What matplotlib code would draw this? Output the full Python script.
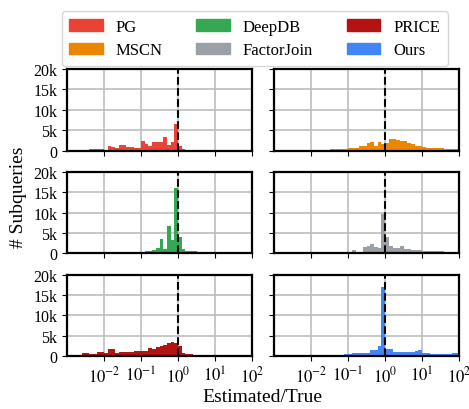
import numpy as np
import matplotlib
matplotlib.use("Agg")
import matplotlib.pyplot as plt
from matplotlib.patches import Patch

plt.rcParams['font.family'] = ['Liberation Serif', 'DejaVu Serif']
plt.rcParams['mathtext.fontset'] = 'stix'

# histogram bins: 10 per decade from 1e-3 to 1e2 (log10 of edges)
log_edges = np.arange(-3.0, 2.01, 0.1)

# counts per bin, in thousands
pg_k = [0, 0, 0, 0, 0.02, 0.05, 0.3, 0.3, 0.3, 0.3,
        0.15, 1.15, 0.8, 0.65, 1.4, 1.4, 1.0, 1.0, 0.75, 0.75,
        2.4, 1.65, 1.1, 2.0, 2.1, 2.0, 3.45, 1.4, 2.1, 6.6,
        1.15, 0.5, 0.25, 0.1, 0.04, 0.03, 0.03, 0.03, 0.03, 0.03,
        0.03, 0.03, 0.02, 0.02, 0.02, 0.02, 0.02, 0.02, 0.02, 0.02]
mscn_k = [0.02, 0.02, 0.02, 0.02, 0.02, 0.02, 0.02, 0.02, 0.02, 0.02,
          0.02, 0.02, 0.02, 0.02, 0.05, 0.4, 0.4, 0.4, 0.4, 0.4,
          0.75, 0.75, 0.75, 1.15, 1.15, 1.8, 2.0, 1.15, 2.0, 1.65,
          1.8, 2.9, 2.9, 2.5, 2.3, 2.4, 1.8, 1.55, 1.15, 1.15,
          0.9, 0.65, 0.65, 0.65, 0.65, 0.65, 0.4, 0.4, 0.4, 0.4]
deepdb_k = [0, 0, 0, 0, 0, 0, 0, 0, 0, 0,
            0, 0, 0, 0, 0, 0.1, 0.33, 0, 0.33, 0.33,
            0.4, 0.65, 0.65, 0.8, 1.3, 3.45, 1.15, 6.7, 3.2, 16.0,
            3.95, 1.07, 0.65, 0.5, 0.5, 0.25, 0.25, 0.05, 0, 0,
            0, 0, 0, 0, 0, 0, 0, 0, 0, 0]
factorjoin_k = [0, 0, 0, 0, 0, 0, 0, 0, 0, 0,
                0, 0, 0, 0, 0, 0, 0, 0.25, 0.1, 0,
                0.4, 0.75, 0.25, 0.25, 1.5, 1.75, 2.2, 1.55, 1.3, 9.6,
                3.9, 1.7, 1.4, 1.4, 1.7, 1.07, 1.07, 0.75, 0.75, 0.75,
                0.5, 0.5, 0.5, 0.5, 0.5, 0.5, 0.25, 0.25, 0.25, 0.25]
price_k = [0.35, 0.33, 0.33, 0.33, 0.65, 0.65, 0.6, 0.6, 0.9, 0.9,
           0.8, 1.65, 1.65, 0.65, 0.9, 0.9, 0.9, 0.9, 1.15, 1.15,
           1.3, 1.15, 2.05, 1.8, 2.3, 2.55, 2.8, 3.1, 3.35, 3.1,
           2.4, 0.75, 0.4, 0.4, 0.12, 0.12, 0.12, 0.12, 0.12, 0.12,
           0.12, 0.12, 0.12, 0.12, 0.12, 0.12, 0.12, 0.12, 0.12, 0.12]
ours_k = [0, 0, 0, 0, 0, 0, 0, 0, 0, 0,
          0, 0, 0, 0, 0, 0.2, 0.33, 0.33, 0.33, 0.4,
          0.4, 0.65, 0.65, 0.75, 0.75, 0.75, 1.5, 1.5, 2.4, 17.0,
          1.8, 1.8, 1.07, 0.9, 0.9, 0.9, 0.9, 0.9, 1.23, 1.4,
          0.65, 0.65, 0.4, 0.4, 0.4, 0.4, 0.4, 0.4, 0.65, 0.65]

methods = ['PG', 'MSCN', 'DeepDB', 'FactorJoin', 'PRICE', 'Ours']
counts = [pg_k, mscn_k, deepdb_k, factorjoin_k, price_k, ours_k]
colors = ['#EA4335', '#EA8600', '#34A853', '#9AA0A6', '#B31412', '#4285F4']

yticks = [0, 5000, 10000, 15000, 20000]
ytick_labels = ['0', '5k', '10k', '15k', '20k']
xticks = [1e-2, 1e-1, 1e0, 1e1, 1e2]
xtick_labels = [r'$10^{-2}$', r'$10^{-1}$', r'$10^{0}$', r'$10^{1}$', r'$10^{2}$']

fig, axes = plt.subplots(3, 2, figsize=(4.69, 4.10), dpi=100)
fig.subplots_adjust(left=0.143, right=0.979, top=0.829, bottom=0.129,
                    wspace=0.12, hspace=0.26)

edges = 10 ** log_edges
centers = 10 ** ((log_edges[:-1] + log_edges[1:]) / 2)

for i, ax in enumerate(axes.flat):
    w = np.array(counts[i]) * 1000
    ax.hist(centers, bins=edges, weights=w, color=colors[i], zorder=2)
    ax.axvline(1, color='black', linestyle='--', linewidth=1.5, zorder=3)
    ax.set_xscale('log')
    ax.set_xlim(1e-3, 1e2)
    ax.set_ylim(0, 20000)
    ax.set_xticks(xticks)
    ax.minorticks_off()
    ax.set_yticks(yticks)
    ax.grid(True, color='#bdbdbd', linewidth=1.2, zorder=0)
    ax.set_axisbelow(True)
    for s in ax.spines.values():
        s.set_linewidth(1.6)
    if i % 2 == 0:
        ax.set_yticklabels(ytick_labels, fontsize=11.5)
    else:
        ax.set_yticklabels([])
    if i >= 4:
        ax.set_xticklabels(xtick_labels, fontsize=12)
    else:
        ax.set_xticklabels([])

handles = [Patch(color=c, label=m) for m, c in zip(methods, colors)]
fig.legend(handles=handles, loc='upper center', bbox_to_anchor=(0.543, 0.99),
           ncol=3, fontsize=12, handlelength=2.0, handleheight=0.7,
           handletextpad=0.8, columnspacing=2.0, borderpad=0.45, labelspacing=0.45)

fig.text(0.04, 0.52, '# Subqueries', rotation=90, ha='center', va='center', fontsize=14)
fig.text(0.56, 0.03, 'Estimated/True', ha='center', va='center', fontsize=14)

fig.savefig('out.png', dpi=100)
